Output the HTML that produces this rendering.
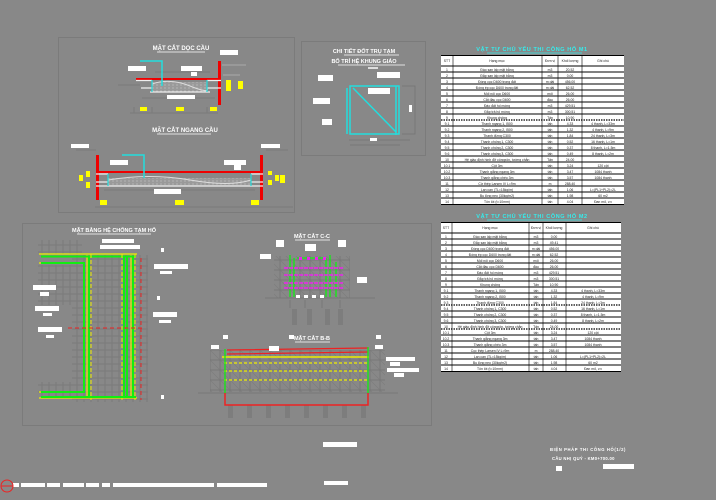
<!DOCTYPE html>
<html><head><meta charset="utf-8"><style>
html,body{margin:0;padding:0;background:#888888;}
svg{display:block;font-family:"Liberation Sans","Noto Sans CJK SC",sans-serif;}
</style></head><body>
<svg width="716" height="500" viewBox="0 0 716 500" xmlns="http://www.w3.org/2000/svg">
<rect width="716" height="500" fill="#888888"/>
<defs>
<pattern id="grid" width="7" height="7" patternUnits="userSpaceOnUse"><rect width="7" height="7" fill="none" stroke="#7a7a7a" stroke-width="1"/></pattern>
<pattern id="scaf" width="10" height="10" patternUnits="userSpaceOnUse"><rect width="10" height="10" fill="none" stroke="#777" stroke-width="1"/><path d="M0 0L10 10" stroke="#7c7c7c" stroke-width="0.6"/></pattern>
<pattern id="hatch" width="4" height="3" patternUnits="userSpaceOnUse"><rect width="4" height="3" fill="#9a9a9a"/><circle cx="1" cy="1" r="0.6" fill="#c8c8c8"/></pattern>
</defs>
<!-- panels -->
<g fill="none" stroke="#7b7b7b" stroke-width="1">
<rect x="58.5" y="37.5" width="236" height="175"/>
<rect x="301.5" y="41.5" width="124" height="114"/>
<rect x="22.5" y="223.5" width="409" height="202"/>
</g>

<!-- Section 1 longitudinal -->
<g>
<text x="181" y="50" font-size="6" fill="#fff" text-anchor="middle" font-weight="bold">MẶT CẮT DỌC CẦU</text>
<line x1="157" y1="52" x2="205" y2="52" stroke="#fff" stroke-width="0.8"/>
<path d="M118 85H140M155 72H210M142 98H215M130 113H218M134 107V113M152 107V113M207 107V113" stroke="#7a7a7a" fill="none"/>
<rect x="152" y="82" width="55" height="10" fill="url(#hatch)"/>
<path d="M152 84Q170 78 190 86T207 88" stroke="#ddd" fill="none"/>
<line x1="136" y1="79" x2="218" y2="79" stroke="#e00" stroke-width="2"/>
<rect x="218" y="61" width="3" height="44" fill="#e00"/>
<path d="M136 80.5H152M141 88H152M207 80.5H221M207 88H221M150 92H210" stroke="#eee" stroke-width="1.2"/>
<path d="M152 80V92M207 80V92" stroke="#2dd" stroke-width="1.2"/>
<path d="M140 61H162V86" stroke="#2dd" stroke-width="1.5" fill="none"/>
<g fill="#fff"><rect x="128" y="66" width="18" height="5"/><rect x="181" y="66" width="21" height="5"/><rect x="191" y="72" width="6" height="4"/><rect x="167" y="95" width="28" height="4"/><rect x="220" y="50" width="18" height="5"/></g>
<g fill="#ff0"><rect x="140" y="107" width="7" height="4"/><rect x="176" y="107" width="8" height="4"/><rect x="210" y="107" width="7" height="4"/><rect x="226" y="80" width="5" height="11"/><rect x="238" y="81" width="5" height="8"/></g>
<path d="M222 65H246M223 75H240" stroke="#aaa"/>
</g>

<!-- Section 2 transverse -->
<g>
<text x="185" y="132" font-size="6" fill="#fff" text-anchor="middle" font-weight="bold">MẶT CẮT NGANG CẦU</text>
<line x1="157" y1="134" x2="211" y2="134" stroke="#fff" stroke-width="0.8"/>
<path d="M76 150H96M266 150H288M95 207H293M104 190H255" stroke="#7a7a7a" fill="none"/>
<rect x="108" y="178" width="143" height="8" fill="url(#hatch)"/>
<path d="M108 180Q150 173 190 180T251 180" stroke="#ddd" fill="none"/>
<rect x="96" y="155" width="3" height="45" fill="#e00"/>
<rect x="260" y="155" width="3" height="45" fill="#e00"/>
<line x1="99" y1="172" x2="260" y2="172" stroke="#e00" stroke-width="2"/>
<path d="M96 174H108M96 182H108M251 174H263M251 182H263M96 186H263" stroke="#eee" stroke-width="1.2"/>
<path d="M108 174V186M251 174V186" stroke="#2dd" stroke-width="1.2"/>
<path d="M122 155H144V178" stroke="#2dd" stroke-width="1.5" fill="none"/>
<g fill="#fff"><rect x="71" y="144" width="18" height="4"/><rect x="110" y="160" width="18" height="5"/><rect x="224" y="160" width="22" height="5"/><rect x="234" y="165" width="7" height="5"/><rect x="261" y="144" width="19" height="4"/><rect x="154" y="189" width="27" height="5"/></g>
<g fill="#ff0"><rect x="100" y="200" width="7" height="5"/><rect x="175" y="200" width="9" height="5"/><rect x="251" y="200" width="8" height="5"/><rect x="79" y="175" width="4" height="6"/><rect x="86" y="171" width="4" height="6"/><rect x="86" y="182" width="4" height="6"/><rect x="268" y="171" width="4" height="4"/><rect x="268" y="180" width="4" height="5"/><rect x="275" y="175" width="4" height="6"/><rect x="280" y="175" width="5" height="8"/></g>
</g>

<!-- detail panel -->
<g>
<text x="364" y="53" font-size="5.5" fill="#fff" text-anchor="middle" font-weight="bold">CHI TIẾT ĐỐT TRỤ TẠM</text>
<line x1="344" y1="55" x2="399" y2="55" stroke="#fff" stroke-width="0.8"/>
<text x="364" y="63" font-size="5.5" fill="#fff" text-anchor="middle" font-weight="bold">BỐ TRÍ HỆ KHUNG GIÁO</text>
<line x1="338" y1="65" x2="405" y2="65" stroke="#fff" stroke-width="0.8"/>
<rect x="368" y="67" width="10" height="2" fill="#ddd"/>
<path d="M349 140H410M350 145H400M402 86H415V134H402" stroke="#777" fill="none"/>
<rect x="350" y="86" width="49" height="48" fill="none" stroke="#2dd" stroke-width="1.5"/>
<path d="M347 88V134M396 86V135M353 88L396 132" stroke="#2dd" stroke-width="1.5" fill="none"/>
<g fill="#fff"><rect x="318" y="75" width="15" height="6"/><rect x="313" y="98" width="17" height="6"/><rect x="322" y="119" width="10" height="6"/><rect x="377" y="72" width="23" height="6"/><rect x="368" y="88" width="22" height="6"/><rect x="409" y="105" width="3" height="7"/><rect x="370" y="138" width="7" height="3"/></g>
</g>

<!-- plan view -->
<g>
<text x="114" y="232" font-size="5.5" fill="#fff" text-anchor="middle" font-weight="bold">MẶT BẰNG HỆ CHỐNG TẠM HỐ</text>
<line x1="77" y1="234" x2="151" y2="234" stroke="#fff" stroke-width="0.8"/>
<rect x="38" y="240" width="44" height="14" fill="url(#grid)"/>
<rect x="38" y="265" width="110" height="40" fill="url(#grid)"/>
<rect x="72" y="255" width="76" height="147" fill="url(#grid)"/>
<rect x="38" y="382" width="44" height="14" fill="url(#grid)"/>
<path d="M39 254H137M39 398H137M39 263H85M39 392H85M87 255V398M131 255V398" stroke="#ee0" stroke-width="1.2" fill="none"/>
<path d="M41 256.5H136M41 397H136M41 263H84V392H41M89 256V397M124 256V397M127 256V397M133 256V397" stroke="#1e1" stroke-width="2" fill="none"/>
<path d="M91 254V400M122 254V400M135 254V400" stroke="#ee0" stroke-width="1" stroke-dasharray="4 2" fill="none"/>
<path d="M141 258V400M68 328H145" stroke="#e22" stroke-width="1" stroke-dasharray="4 3" fill="none"/>
<g fill="#fff"><rect x="102" y="239" width="32" height="4"/><rect x="100" y="245" width="40" height="4"/><rect x="33" y="285" width="23" height="5"/><rect x="40" y="292" width="9" height="4"/><rect x="35" y="306" width="24" height="5"/><rect x="43" y="313" width="9" height="3"/><rect x="38" y="327" width="24" height="5"/><rect x="46" y="335" width="8" height="3"/><rect x="154" y="264" width="34" height="5"/><rect x="160" y="271" width="12" height="3"/><rect x="153" y="312" width="24" height="5"/><rect x="159" y="320" width="12" height="3"/><rect x="161" y="248" width="3" height="4"/><rect x="157" y="296" width="3" height="4"/><rect x="161" y="395" width="3" height="4"/></g>
</g>

<!-- Section C-C -->
<g>
<text x="312" y="238" font-size="5.5" fill="#fff" text-anchor="middle" font-weight="bold">MẶT CẮT C-C</text>
<line x1="295" y1="240" x2="330" y2="240" stroke="#fff" stroke-width="0.8"/>
<rect x="274" y="256" width="76" height="42" fill="url(#scaf)"/>
<path d="M265 298H375M290 300V308M305 300V308M322 300V308M340 300V308" stroke="#777"/>
<g fill="#7d7d7d"><rect x="292" y="309" width="5" height="16"/><rect x="307" y="309" width="5" height="16"/><rect x="325" y="309" width="5" height="16"/><rect x="338" y="309" width="5" height="16"/></g>
<path d="M290 255V297M294 258V297M326 258V297M330 255V297M336 262V297M297 258H324" stroke="#1e1" stroke-width="1.3" fill="none"/>
<g stroke="#e2e" stroke-width="1.5" stroke-dasharray="4 1"><path d="M284 268H343M284 275H343M284 283H343M284 288H343"/></g>
<g fill="#e2e"><rect x="299" y="257" width="3" height="3"/><rect x="307" y="257" width="3" height="3"/><rect x="315" y="257" width="3" height="3"/><rect x="323" y="257" width="3" height="3"/></g>
<g fill="#fff"><rect x="276" y="240" width="8" height="7"/><rect x="305" y="244" width="11" height="7"/><rect x="338" y="240" width="8" height="7"/><rect x="260" y="254" width="11" height="5"/><rect x="357" y="277" width="10" height="6"/><rect x="296" y="295" width="4" height="3"/><rect x="304" y="295" width="4" height="3"/><rect x="312" y="295" width="4" height="3"/><rect x="320" y="295" width="4" height="3"/></g>
</g>

<!-- Section B-B -->
<g>
<text x="312" y="340" font-size="5.5" fill="#fff" text-anchor="middle" font-weight="bold">MẶT CẮT B-B</text>
<line x1="295" y1="342" x2="330" y2="342" stroke="#fff" stroke-width="0.8"/>
<rect x="210" y="350" width="175" height="42" fill="url(#scaf)"/>
<path d="M198 393H398" stroke="#777"/>
<g fill="#7d7d7d"><rect x="228" y="405" width="5" height="13"/><rect x="247" y="405" width="5" height="13"/><rect x="266" y="405" width="5" height="13"/><rect x="285" y="405" width="5" height="13"/><rect x="304" y="405" width="5" height="13"/><rect x="323" y="405" width="5" height="13"/><rect x="342" y="405" width="5" height="13"/><rect x="361" y="405" width="5" height="13"/></g>
<path d="M227 350L368 348M227 354L368 352" stroke="#e22" stroke-width="1.3"/>
<line x1="222" y1="357" x2="369" y2="357" stroke="#ee0" stroke-width="1.5"/>
<g stroke="#ee0" stroke-width="1.3" stroke-dasharray="3 2"><path d="M224 363H368M224 371H368M224 380H368"/></g>
<path d="M225 349V393M368 347V393" stroke="#1e1" stroke-width="1.3"/>
<path d="M225 393V405H368V393" stroke="#e22" stroke-width="1.5" fill="none"/>
<g fill="#fff"><rect x="211" y="345" width="8" height="4"/><rect x="269" y="346" width="10" height="5"/><rect x="375" y="345" width="8" height="4"/><rect x="386" y="357" width="29" height="4"/><rect x="390" y="362" width="10" height="4"/><rect x="387" y="368" width="32" height="4"/><rect x="394" y="373" width="10" height="4"/><rect x="223" y="335" width="5" height="4"/><rect x="289" y="335" width="5" height="4"/><rect x="376" y="335" width="5" height="4"/></g>
</g>

<!-- Table 1 -->
<g id="t1">
<text x="532" y="51" font-size="5.5" fill="#3ee" text-anchor="middle" font-weight="bold" letter-spacing="0.6">VẬT TƯ CHỦ YẾU THI CÔNG HỐ M1</text>
<line x1="487" y1="53" x2="582" y2="53" stroke="#3ee" stroke-width="0.8"/>
<rect x="441" y="55" width="183" height="150" fill="#fff"/>
<g stroke="#000" stroke-width="0.6">
<path d="M453 55V205M542 55V205M558 55V205M582 55V205"/>
<path d="M441 55.5H624M441 66H624M441 72H624M441 78H624M441 84H624M441 90H624M441 96H624M441 102H624M441 108H624M441 114H624M441 126H624M441 132H624M441 138H624M441 144H624M441 150H624M441 156H624M441 162H624M441 168H624M441 174H624M441 180H624M441 186H624M441 192H624M441 198H624M441 204.5H624" stroke-width="0.9"/>
<path d="M441 120H624" stroke-dasharray="1.5 1" stroke-width="1.2"/>
</g>
<g font-size="3.4" fill="#222" text-anchor="middle">
<text x="447" y="62">STT</text><text x="497" y="62">Hạng mục</text><text x="550" y="62">Đơn vị</text><text x="570" y="62">Khối lượng</text><text x="603" y="62">Ghi chú</text>
<text x="447" y="71">1</text><text x="497" y="71">Đào san lấp mặt bằng</text><text x="550" y="71">m3</text><text x="570" y="71">20.52</text>
<text x="447" y="77">2</text><text x="497" y="77">Đắp san lấp mặt bằng</text><text x="550" y="77">m3</text><text x="570" y="77">0.00</text>
<text x="447" y="83">3</text><text x="497" y="83">Đóng cọc D600 trong đất</text><text x="550" y="83">m dài</text><text x="570" y="83">456.00</text>
<text x="447" y="89">4</text><text x="497" y="89">Đóng ép cọc D600 trong đất</text><text x="550" y="89">m dài</text><text x="570" y="89">62.52</text>
<text x="447" y="95">5</text><text x="497" y="95">Mối nối cọc D600</text><text x="550" y="95">mối</text><text x="570" y="95">26.00</text>
<text x="447" y="101">6</text><text x="497" y="101">Cắt đầu cọc D600</text><text x="550" y="101">đầu</text><text x="570" y="101">26.00</text>
<text x="447" y="107">7</text><text x="497" y="107">Đào đất hố móng</text><text x="550" y="107">m3</text><text x="570" y="107">429.51</text>
<text x="447" y="113">8</text><text x="497" y="113">Đắp trả hố móng</text><text x="550" y="113">m3</text><text x="570" y="113">300.51</text>
<text x="447" y="119">9</text><text x="497" y="119">Khung chống</text><text x="550" y="119">Tấn</text><text x="570" y="119">10.90</text>
<text x="447" y="125">9.1</text><text x="497" y="125">Thanh ngang 1, I500</text><text x="550" y="125">tấn</text><text x="570" y="125">4.33</text><text x="603" y="125">4 thanh, L=33m</text>
<text x="447" y="131">9.2</text><text x="497" y="131">Thanh ngang 2, I500</text><text x="550" y="131">tấn</text><text x="570" y="131">1.32</text><text x="603" y="131">4 thanh, L=9m</text>
<text x="447" y="137">9.3</text><text x="497" y="137">Thanh đứng C300</text><text x="550" y="137">tấn</text><text x="570" y="137">1.84</text><text x="603" y="137">24 thanh, L=3m</text>
<text x="447" y="143">9.4</text><text x="497" y="143">Thanh chống 1, C300</text><text x="550" y="143">tấn</text><text x="570" y="143">0.52</text><text x="603" y="143">16 thanh, L=1m</text>
<text x="447" y="149">9.5</text><text x="497" y="149">Thanh chống 2, C300</text><text x="550" y="149">tấn</text><text x="570" y="149">0.37</text><text x="603" y="149">8 thanh, L=1.5m</text>
<text x="447" y="155">9.6</text><text x="497" y="155">Thanh chống 3, C300</text><text x="550" y="155">tấn</text><text x="570" y="155">0.49</text><text x="603" y="155">8 thanh, L=2m</text>
<text x="447" y="161">10</text><text x="497" y="161">Hệ giáo định hình đỡ côngxôn, tường chắn</text><text x="550" y="161">Tấn</text><text x="570" y="161">24.00</text>
<text x="447" y="167">10.1</text><text x="497" y="167">Cột 3m</text><text x="550" y="167">tấn</text><text x="570" y="167">3.24</text><text x="603" y="167">120 cột</text>
<text x="447" y="173">10.2</text><text x="497" y="173">Thanh giằng ngang 3m</text><text x="550" y="173">tấn</text><text x="570" y="173">3.47</text><text x="603" y="173">1084 thanh</text>
<text x="447" y="179">10.3</text><text x="497" y="179">Thanh giằng chéo 3m</text><text x="550" y="179">tấn</text><text x="570" y="179">3.57</text><text x="603" y="179">1084 thanh</text>
<text x="447" y="185">11</text><text x="497" y="185">Cừ thép Larsen IV L=9m</text><text x="550" y="185">m</text><text x="570" y="185">288.40</text>
<text x="447" y="191">12</text><text x="497" y="191">Lan can (TL=15kg/m)</text><text x="550" y="191">tấn</text><text x="570" y="191">1.06</text><text x="603" y="191">L=(PL1+PL2)=2L</text>
<text x="447" y="197">13</text><text x="497" y="197">Bu lông neo (30kg/m2)</text><text x="550" y="197">tấn</text><text x="570" y="197">1.98</text><text x="603" y="197">60 m2</text>
<text x="447" y="203">14</text><text x="497" y="203">Tôn lót (t=10mm)</text><text x="550" y="203">tấn</text><text x="570" y="203">4.04</text><text x="603" y="203">Đan mỏ, v.v</text>
</g>
</g>
<!-- Table 2 -->
<g transform="translate(0,167)">
<text x="532" y="51" font-size="5.5" fill="#3ee" text-anchor="middle" font-weight="bold" letter-spacing="0.6">VẬT TƯ CHỦ YẾU THI CÔNG HỐ M2</text>
<line x1="487" y1="53" x2="582" y2="53" stroke="#3ee" stroke-width="0.8"/>
<rect x="441" y="55" width="180" height="150" fill="#fff"/>
<g stroke="#000" stroke-width="0.6">
<path d="M452 55V205M529 55V205M543 55V205M566 55V205"/>
<path d="M441 55.5H621M441 66H621M441 72H621M441 78H621M441 84H621M441 90H621M441 96H621M441 102H621M441 108H621M441 114H621M441 120H621M441 126H621M441 132H621M441 144H621M441 150H621M441 156H621M441 168H621M441 174H621M441 180H621M441 186H621M441 192H621M441 198H621M441 204.5H621" stroke-width="0.9"/>
<path d="M441 138H621M441 162H621" stroke-dasharray="1.5 1" stroke-width="1.2"/>
</g>
<g font-size="3.4" fill="#222" text-anchor="middle">
<text x="446" y="62">STT</text><text x="490" y="62">Hạng mục</text><text x="536" y="62">Đơn vị</text><text x="554" y="62">Khối lượng</text><text x="593" y="62">Ghi chú</text>
<text x="446" y="71">1</text><text x="490" y="71">Đào san lấp mặt bằng</text><text x="536" y="71">m3</text><text x="554" y="71">0.00</text>
<text x="446" y="77">2</text><text x="490" y="77">Đắp san lấp mặt bằng</text><text x="536" y="77">m3</text><text x="554" y="77">49.41</text>
<text x="446" y="83">3</text><text x="490" y="83">Đóng cọc D600 trong đất</text><text x="536" y="83">m dài</text><text x="554" y="83">456.00</text>
<text x="446" y="89">4</text><text x="490" y="89">Đóng ép cọc D600 trong đất</text><text x="536" y="89">m dài</text><text x="554" y="89">62.52</text>
<text x="446" y="95">5</text><text x="490" y="95">Mối nối cọc D600</text><text x="536" y="95">mối</text><text x="554" y="95">26.00</text>
<text x="446" y="101">6</text><text x="490" y="101">Cắt đầu cọc D600</text><text x="536" y="101">đầu</text><text x="554" y="101">26.00</text>
<text x="446" y="107">7</text><text x="490" y="107">Đào đất hố móng</text><text x="536" y="107">m3</text><text x="554" y="107">429.51</text>
<text x="446" y="113">8</text><text x="490" y="113">Đắp trả hố móng</text><text x="536" y="113">m3</text><text x="554" y="113">300.51</text>
<text x="446" y="119">9</text><text x="490" y="119">Khung chống</text><text x="536" y="119">Tấn</text><text x="554" y="119">10.90</text>
<text x="446" y="125">9.1</text><text x="490" y="125">Thanh ngang 1, I500</text><text x="536" y="125">tấn</text><text x="554" y="125">4.33</text><text x="593" y="125">4 thanh, L=33m</text>
<text x="446" y="131">9.2</text><text x="490" y="131">Thanh ngang 2, I500</text><text x="536" y="131">tấn</text><text x="554" y="131">1.32</text><text x="593" y="131">4 thanh, L=9m</text>
<text x="446" y="137">9.3</text><text x="490" y="137">Thanh đứng C300</text><text x="536" y="137">tấn</text><text x="554" y="137">1.84</text><text x="593" y="137">24 thanh, L=3m</text>
<text x="446" y="143">9.4</text><text x="490" y="143">Thanh chống 1, C300</text><text x="536" y="143">tấn</text><text x="554" y="143">0.52</text><text x="593" y="143">16 thanh, L=1m</text>
<text x="446" y="149">9.5</text><text x="490" y="149">Thanh chống 2, C300</text><text x="536" y="149">tấn</text><text x="554" y="149">0.37</text><text x="593" y="149">8 thanh, L=1.5m</text>
<text x="446" y="155">9.6</text><text x="490" y="155">Thanh chống 3, C300</text><text x="536" y="155">tấn</text><text x="554" y="155">0.49</text><text x="593" y="155">8 thanh, L=2m</text>
<text x="446" y="161">10</text><text x="490" y="161">Hệ giáo định hình đỡ côngxôn, tường chắn</text><text x="536" y="161">Tấn</text><text x="554" y="161">24.00</text>
<text x="446" y="167">10.1</text><text x="490" y="167">Cột 3m</text><text x="536" y="167">tấn</text><text x="554" y="167">3.24</text><text x="593" y="167">120 cột</text>
<text x="446" y="173">10.2</text><text x="490" y="173">Thanh giằng ngang 3m</text><text x="536" y="173">tấn</text><text x="554" y="173">3.47</text><text x="593" y="173">1084 thanh</text>
<text x="446" y="179">10.3</text><text x="490" y="179">Thanh giằng chéo 3m</text><text x="536" y="179">tấn</text><text x="554" y="179">3.57</text><text x="593" y="179">1084 thanh</text>
<text x="446" y="185">11</text><text x="490" y="185">Cọc thép Larsen IV L=9m</text><text x="536" y="185">m</text><text x="554" y="185">288.40</text>
<text x="446" y="191">12</text><text x="490" y="191">Lan can (TL=15kg/m)</text><text x="536" y="191">tấn</text><text x="554" y="191">1.06</text><text x="593" y="191">L=(PL1+PL2)=2L</text>
<text x="446" y="197">13</text><text x="490" y="197">Bu lông neo (30kg/m2)</text><text x="536" y="197">tấn</text><text x="554" y="197">1.98</text><text x="593" y="197">60 m2</text>
<text x="446" y="203">14</text><text x="490" y="203">Tôn lót (t=10mm)</text><text x="536" y="203">tấn</text><text x="554" y="203">4.04</text><text x="593" y="203">Đan mỏ, v.v</text>
</g>
</g>

<!-- title block -->
<g fill="#fff">
<rect x="323" y="442" width="34" height="5"/>
<rect x="324" y="481" width="24" height="4"/>
<text x="550" y="451" font-size="4.2" font-weight="bold" letter-spacing="0.6">BIỆN PHÁP THI CÔNG HỐ(1/2)</text>
<text x="552" y="460" font-size="4.2" font-weight="bold" letter-spacing="0.3">CẦU NHỊ QUÝ - KM0+700.00</text>
<rect x="556" y="466" width="6" height="5"/>
<rect x="603" y="464" width="31" height="5"/>
<rect x="13" y="483" width="6" height="4"/><rect x="21" y="483" width="24" height="4"/><rect x="47" y="483" width="13" height="4"/><rect x="63" y="483" width="21" height="4"/><rect x="86" y="483" width="13" height="4"/><rect x="102" y="483" width="8" height="4"/><rect x="113" y="483" width="101" height="4"/><rect x="217" y="483" width="50" height="4"/>
</g>
<circle cx="7" cy="486" r="6" fill="none" stroke="#e22" stroke-width="1"/>
<line x1="1" y1="486" x2="13" y2="486" stroke="#e22" stroke-width="1"/>
</svg>
</body></html>
